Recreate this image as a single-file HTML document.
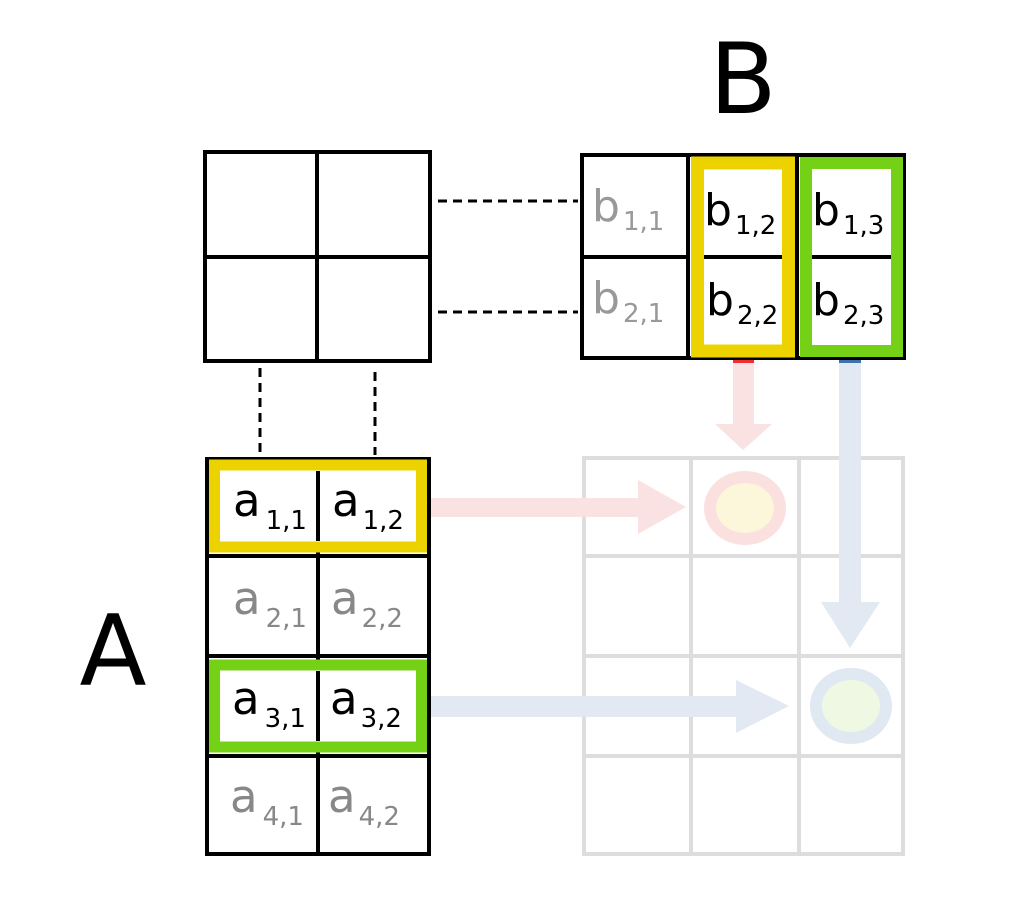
<!DOCTYPE html>
<html><head><meta charset="utf-8"><style>
html,body{margin:0;padding:0;background:#fff}
svg{display:block}
text{font-family:"DejaVu Sans","Liberation Sans",sans-serif}
</style></head><body>
<svg width="1024" height="900" viewBox="0 0 1024 900">
<g stroke="#dddddd" stroke-width="4" fill="none">
<rect x="584" y="458" width="319" height="396"/>
<line x1="691" y1="458" x2="691" y2="854"/>
<line x1="799" y1="458" x2="799" y2="854"/>
<line x1="584" y1="556" x2="903" y2="556"/>
<line x1="584" y1="656" x2="903" y2="656"/>
<line x1="584" y1="756" x2="903" y2="756"/>
</g>
<g fill="#fbe2e2">
<rect x="430" y="498" width="214" height="19"/>
<polygon points="638,480 686,507 638,534"/>
</g>
<g fill="#fbe2e2">
<rect x="733" y="360" width="21" height="68"/>
<polygon points="715,424 772,424 743,450"/>
<rect x="733" y="359" width="21" height="4" fill="#f03030"/>
</g>
<g fill="#e2e9f2">
<rect x="839" y="360" width="22" height="244"/>
<polygon points="821,602 880,602 850,648"/>
<rect x="839" y="359" width="22" height="4" fill="#4070b0"/>
</g>
<g fill="#e2e9f2">
<rect x="430" y="696" width="312" height="21"/>
<polygon points="736,680 789,706 736,733"/>
</g>
<ellipse cx="745" cy="508" rx="35" ry="31" fill="#fcf6da" stroke="#fbe0e0" stroke-width="12"/>
<ellipse cx="851" cy="706" rx="35" ry="32" fill="#eef8e2" stroke="#e0e8f1" stroke-width="12"/>
<g stroke="#000" stroke-width="4" fill="none">
<rect x="205" y="152" width="225" height="209"/>
<line x1="317" y1="152" x2="317" y2="361"/>
<line x1="205" y1="257" x2="430" y2="257"/>
</g>
<g stroke="#000" stroke-width="3" stroke-dasharray="9,6" fill="none">
<line x1="438" y1="201" x2="578" y2="201"/>
<line x1="438" y1="312" x2="578" y2="312"/>
<line x1="260" y1="368" x2="260" y2="455"/>
<line x1="375" y1="372" x2="375" y2="455"/>
</g>
<g>
<rect x="582" y="155" width="322" height="203" fill="#fff" stroke="#000" stroke-width="4"/>
<line x1="688" y1="155" x2="688" y2="358" stroke="#000" stroke-width="4"/>
<line x1="797" y1="155" x2="797" y2="358" stroke="#000" stroke-width="4"/>
<line x1="582" y1="257" x2="688" y2="257" stroke="#000" stroke-width="4"/>
<rect x="697.5" y="163" width="91" height="188" fill="#fff" stroke="#ecd300" stroke-width="13"/>
<rect x="806" y="163" width="91" height="188" fill="#fff" stroke="#74d116" stroke-width="12"/>
<line x1="704" y1="257" x2="782" y2="257" stroke="#000" stroke-width="4"/>
<line x1="812" y1="257" x2="891" y2="257" stroke="#000" stroke-width="4"/>
</g>
<g font-size="44">
<text x="592" y="221" fill="#999">b<tspan font-size="26" dx="3" dy="9">1,1</tspan></text>
<text x="592" y="313" fill="#999">b<tspan font-size="26" dx="3" dy="9">2,1</tspan></text>
<text x="704" y="225" fill="#000">b<tspan font-size="26" dx="3" dy="9">1,2</tspan></text>
<text x="706" y="315" fill="#000">b<tspan font-size="26" dx="3" dy="9">2,2</tspan></text>
<text x="812" y="225" fill="#000">b<tspan font-size="26" dx="3" dy="9">1,3</tspan></text>
<text x="812" y="315" fill="#000">b<tspan font-size="26" dx="3" dy="9">2,3</tspan></text>
</g>
<g>
<rect x="207" y="459" width="222" height="395" fill="#fff" stroke="#000" stroke-width="4"/>
<line x1="318" y1="459" x2="318" y2="854" stroke="#000" stroke-width="4"/>
<line x1="207" y1="556" x2="429" y2="556" stroke="#000" stroke-width="4"/>
<line x1="207" y1="656" x2="429" y2="656" stroke="#000" stroke-width="4"/>
<line x1="207" y1="756" x2="429" y2="756" stroke="#000" stroke-width="4"/>
<rect x="214.5" y="465" width="207" height="82" fill="#fff" stroke="#ecd300" stroke-width="11"/>
<rect x="214.5" y="665" width="207" height="82" fill="#fff" stroke="#74d116" stroke-width="11"/>
<line x1="318" y1="471" x2="318" y2="541" stroke="#000" stroke-width="4"/>
<line x1="318" y1="671" x2="318" y2="741" stroke="#000" stroke-width="4"/>
</g>
<g font-size="45">
<text x="233" y="516" fill="#000">a<tspan font-size="26" dx="5" dy="13">1,1</tspan></text>
<text x="332" y="516" fill="#000">a<tspan font-size="26" dx="3" dy="13">1,2</tspan></text>
<text x="233" y="614" fill="#888">a<tspan font-size="26" dx="5" dy="13">2,1</tspan></text>
<text x="331" y="614" fill="#888">a<tspan font-size="26" dx="3" dy="13">2,2</tspan></text>
<text x="232" y="714" fill="#000">a<tspan font-size="26" dx="5" dy="13">3,1</tspan></text>
<text x="330" y="714" fill="#000">a<tspan font-size="26" dx="3" dy="13">3,2</tspan></text>
<text x="230" y="812" fill="#888">a<tspan font-size="26" dx="5" dy="13">4,1</tspan></text>
<text x="328" y="812" fill="#888">a<tspan font-size="26" dx="3" dy="13">4,2</tspan></text>
</g>
<text x="743" y="113" font-size="98" text-anchor="middle" fill="#000">B</text>
<text x="113" y="685" font-size="98" text-anchor="middle" fill="#000">A</text>
</svg>
</body></html>
